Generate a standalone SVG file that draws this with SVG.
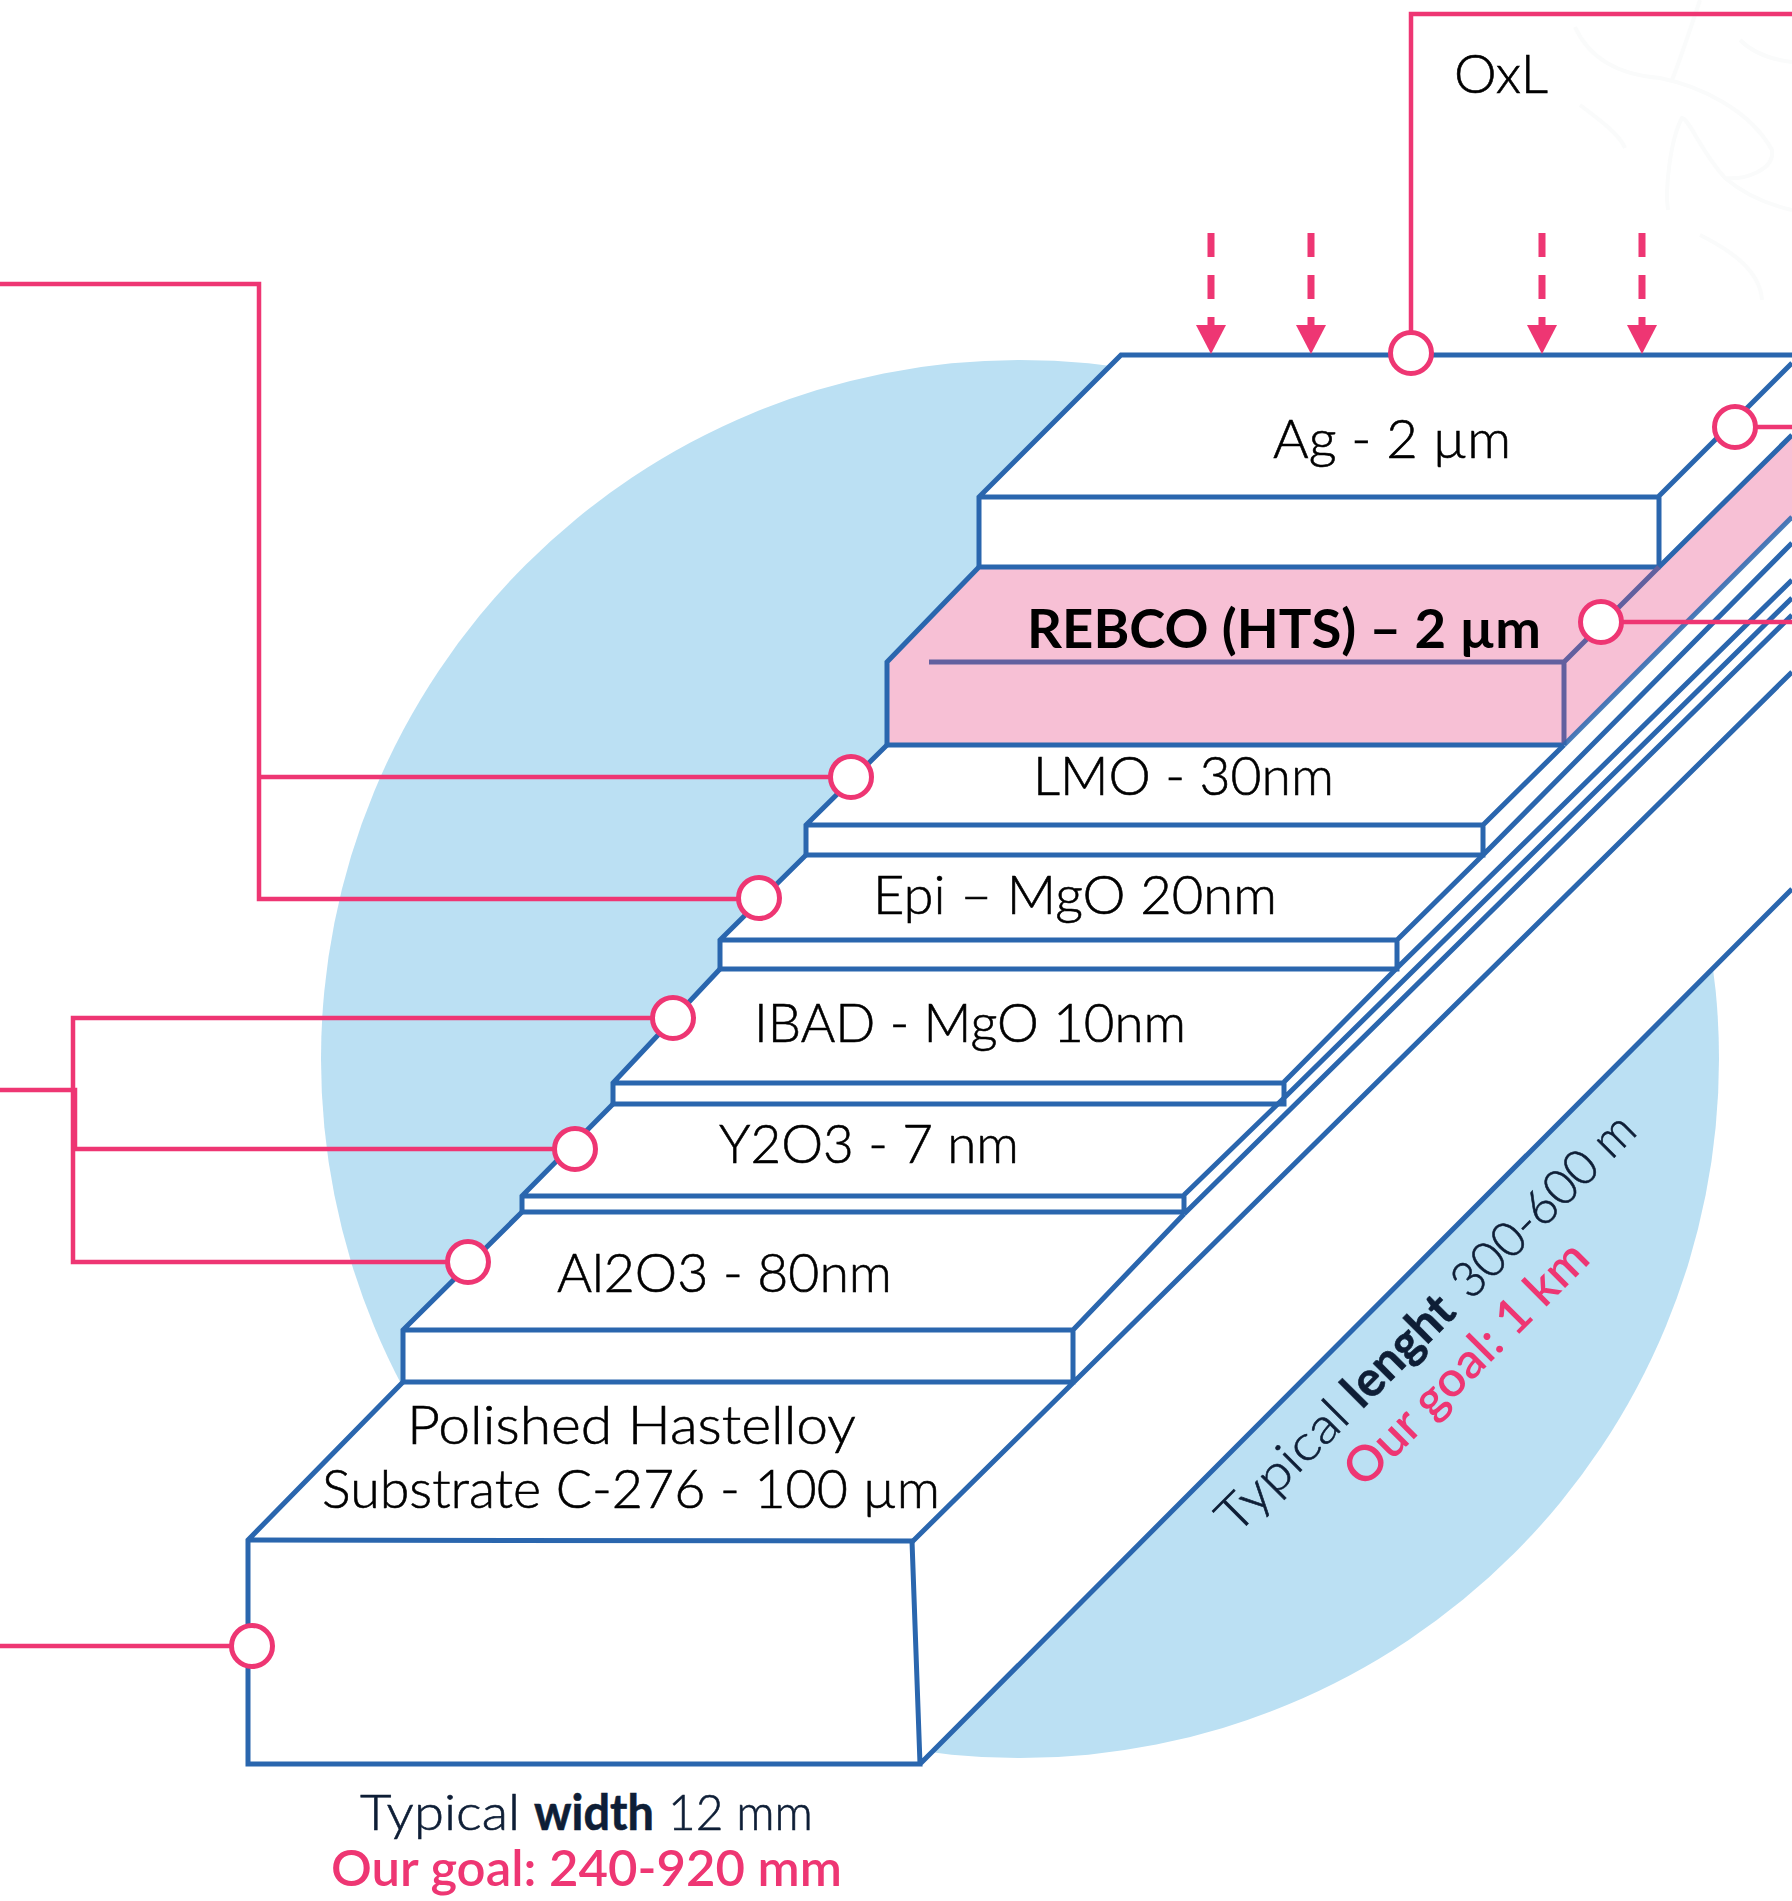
<svg xmlns="http://www.w3.org/2000/svg" width="1792" height="1901" viewBox="0 0 1792 1901">
<style>
.ln{fill:none;stroke:#2a66ae;stroke-width:5;stroke-linejoin:miter}
.pl{fill:none;stroke:#62609f;stroke-width:5}
.cn{fill:none;stroke:#ee3673;stroke-width:4.5}
.dp{fill:#fff;stroke:#ee3673;stroke-width:5}
.ar{fill:none;stroke:#ee3673;stroke-width:7;stroke-dasharray:24 18}
.t{font-family:"Lato","Open Sans",sans-serif;font-size:53px;font-weight:300;fill:#000;stroke:#000;stroke-width:.6}
.b{font-weight:700;stroke:none}
.s{fill:#0e1e36;stroke:#0e1e36}
.g{fill:#ee3673;stroke:none;font-weight:600}
.r{font-size:49px}
</style>
<defs>
<marker id="head" markerUnits="userSpaceOnUse" markerWidth="30" markerHeight="30" refX="15" refY="0" orient="0" overflow="visible"><path d="M0,0H30L15,29Z" fill="#ee3673"/></marker>
</defs>
<rect width="1792" height="1901" fill="#fff"/>
<g id="background">
<g fill="none" stroke="#fafbfb" stroke-width="4">
<path d="M1575,27C1590,60 1620,75 1660,78C1700,86 1750,110 1772,150C1775,170 1745,180 1725,178C1700,150 1690,120 1682,118C1670,140 1665,190 1668,210"/>
<path d="M1740,40C1755,55 1775,60 1792,62"/>
<path d="M1580,105C1600,120 1620,135 1625,148"/>
<path d="M1700,0C1690,30 1680,60 1672,80"/>
<path d="M1725,178C1745,195 1770,205 1792,210"/>
<path d="M1700,235C1730,250 1760,270 1762,300"/>
</g>
<circle cx="1020" cy="1059" r="699" fill="#bbe0f3"/>
<path d="M1121,355H1792V891L920,1764H248V1540L403,1382V1330L522,1212V1196L613,1104V1083L720,969V940L806,855V825L887,745V662L979,567V497Z" fill="#fff"/>
</g>
<g id="layer-ag">
<path class="ln" d="M1792,355H1121L979,497V567M979,497H1659M1792,363L1659,496V567"/>
</g>
<g id="layer-rebco">
<path d="M979,567H1659L1792,435V517L1564,745H887V662Z" fill="#f7c0d5"/>
<path class="ln" d="M979,567H1659L1792,435M979,567L887,662V745H1564"/>
<path class="pl" d="M929,662H1564L1659,567M1564,662V745"/>
<path class="ln" stroke-opacity=".85" d="M1564,745L1792,517"/>
</g>
<g id="layer-lmo"><path class="ln" d="M887,745L806,825V855H1483V825H806M1483,825L1564,745M1483,855L1792,543"/></g>
<g id="layer-epi"><path class="ln" d="M806,855L720,940V969H1397V940H720M1397,940L1483,855M1397,968L1792,580"/></g>
<g id="layer-ibad"><path class="ln" d="M720,969L613,1083V1104H1284V1083H613M1284,1082L1397,968M1284,1098L1792,598"/></g>
<g id="layer-y2o3"><path class="ln" d="M613,1104L522,1196V1212H1184V1196H522M1184,1195L1284,1098M1184,1214L1792,615"/></g>
<g id="layer-al2o3"><path class="ln" d="M522,1212L403,1330V1382H1073V1330H403M1073,1330L1184,1214M912,1542L1792,672"/></g>
<g id="layer-substrate"><path class="ln" d="M403,1382L248,1540V1764H920L912,1541L248,1540M920,1764L1792,889"/></g>
<g id="connectors">
<path class="cn" d="M1411,353V14H1792"/>
<path class="cn" d="M1735,427H1792"/>
<path class="cn" d="M1601,622H1792"/>
<path class="cn" d="M0,284H259V899H759"/>
<path class="cn" d="M259,777H851"/>
<path class="cn" d="M0,1090H75V1149H575"/>
<path class="cn" d="M673,1018H73V1262H468"/>
<path class="cn" d="M0,1646H252"/>
<path class="ar" d="M1211,233V325" marker-end="url(#head)"/>
<path class="ar" d="M1311,233V325" marker-end="url(#head)"/>
<path class="ar" d="M1542,233V325" marker-end="url(#head)"/>
<path class="ar" d="M1642,233V325" marker-end="url(#head)"/>
</g>
<g id="node-oxl"><circle class="dp" cx="1411" cy="353" r="20.5"/><text class="t" x="1454" y="93" textLength="94" lengthAdjust="spacingAndGlyphs">OxL</text></g>
<g id="node-ag"><circle class="dp" cx="1735" cy="427" r="20.5"/><text class="t" x="1273" y="458" textLength="238" lengthAdjust="spacingAndGlyphs">Ag - 2 µm</text></g>
<g id="node-rebco"><circle class="dp" cx="1601" cy="622" r="20.5"/><text class="t b" x="1027" y="648" textLength="514" lengthAdjust="spacingAndGlyphs">REBCO (HTS) – 2 µm</text></g>
<g id="node-lmo"><circle class="dp" cx="851" cy="777" r="20.5"/><text class="t" x="1033" y="795" textLength="301" lengthAdjust="spacingAndGlyphs">LMO - 30nm</text></g>
<g id="node-epi"><circle class="dp" cx="759" cy="898" r="20.5"/><text class="t" x="873" y="914" textLength="404" lengthAdjust="spacingAndGlyphs">Epi – MgO 20nm</text></g>
<g id="node-ibad"><circle class="dp" cx="673" cy="1018" r="20.5"/><text class="t" x="754" y="1042" textLength="432" lengthAdjust="spacingAndGlyphs">IBAD - MgO 10nm</text></g>
<g id="node-y2o3"><circle class="dp" cx="575" cy="1149" r="20.5"/><text class="t" x="719" y="1163" textLength="300" lengthAdjust="spacingAndGlyphs">Y2O3 - 7 nm</text></g>
<g id="node-al2o3"><circle class="dp" cx="468" cy="1262" r="20.5"/><text class="t" x="557" y="1292" textLength="335" lengthAdjust="spacingAndGlyphs">Al2O3 - 80nm</text></g>
<g id="node-substrate"><circle class="dp" cx="252" cy="1646" r="20.5"/><text class="t" x="407" y="1444" textLength="449" lengthAdjust="spacingAndGlyphs">Polished Hastelloy</text><text class="t" x="322" y="1508" textLength="618" lengthAdjust="spacingAndGlyphs">Substrate C-276 - 100 µm</text></g>
<g id="width-label">
<text class="t s r" x="360" y="1830" textLength="160" lengthAdjust="spacingAndGlyphs">Typical</text>
<text class="t s r b" x="534" y="1830" textLength="120" lengthAdjust="spacingAndGlyphs">width</text>
<text class="t s r" x="668" y="1830" textLength="145" lengthAdjust="spacingAndGlyphs">12 mm</text>
<text class="t g r" x="331" y="1886" textLength="511" lengthAdjust="spacingAndGlyphs">Our goal: 240-920 mm</text>
</g>
<g id="length-label" transform="rotate(-45 1236 1536)">
<text class="t s r" x="1236" y="1536" textLength="164" lengthAdjust="spacingAndGlyphs">Typical</text>
<text class="t s r b" x="1414" y="1536" textLength="136" lengthAdjust="spacingAndGlyphs">lenght</text>
<text class="t s r" x="1568" y="1536" textLength="238" lengthAdjust="spacingAndGlyphs">300-600 m</text>
</g>
<g id="goal-label" transform="rotate(-45 1365 1488)"><text class="t g r" x="1363" y="1488" textLength="323" lengthAdjust="spacingAndGlyphs">Our goal: 1 km</text></g>
</svg>
